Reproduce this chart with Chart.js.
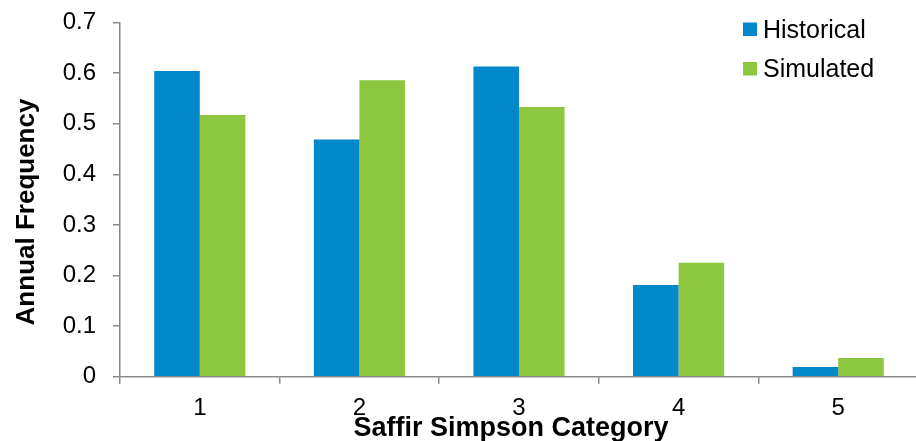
<!DOCTYPE html>
<html>
<head>
<meta charset="utf-8">
<script src="https://cdn.jsdelivr.net/npm/chart.js@4.4.1/dist/chart.umd.min.js"></script>
<style>
  html, body { margin: 0; padding: 0; background: #ffffff; overflow: hidden; }
  #wrap { width: 920px; height: 441px; position: relative; }
</style>
</head>
<body>
<div id="wrap"><canvas id="c" width="920" height="441"></canvas></div>
<script>
const categories = ["1", "2", "3", "4", "5"];
const historical = [0.604, 0.469, 0.613, 0.181, 0.019];
const simulated = [0.517, 0.586, 0.533, 0.225, 0.037];
const seriesNames = ["Historical", "Simulated"];
const xTitle = "Saffir Simpson Category";
const yTitle = "Annual Frequency";

const FONT = "'Liberation Sans', Arial, Helvetica, sans-serif";
const AXIS_COLOR = "#898989";

const overlay = {
  id: "overlay",
  afterDraw(chart) {
    const ctx = chart.ctx;
    ctx.save();
    // legend
    ctx.font = "25px " + FONT;
    ctx.textBaseline = "alphabetic";
    ctx.textAlign = "left";
    chart.data.datasets.forEach((ds, i) => {
      const y = 22.5 + i * 39.5;
      ctx.fillStyle = ds.backgroundColor;
      ctx.fillRect(743, y, 14, 13.5);
      ctx.fillStyle = "#000000";
      ctx.fillText(ds.label, 763, y + 15);
    });
    // axis titles
    ctx.fillStyle = "#000000";
    ctx.textAlign = "center";
    ctx.textBaseline = "middle";
    ctx.font = "bold 27px " + FONT;
    ctx.fillText(xTitle, 511, 429);
    ctx.font = "bold 26px " + FONT;
    ctx.translate(27, 212);
    ctx.rotate(-Math.PI / 2);
    ctx.fillText(yTitle, 0, 0);
    ctx.restore();
  }
};

new Chart(document.getElementById("c"), {
  type: "bar",
  data: {
    labels: categories,
    datasets: [
      { label: seriesNames[0], data: historical, backgroundColor: "#0088CB", borderWidth: 0 },
      { label: seriesNames[1], data: simulated, backgroundColor: "#8DC63F", borderWidth: 0 }
    ]
  },
  options: {
    responsive: false,
    animation: false,
    devicePixelRatio: 1,
    layout: { padding: { top: 22.5, left: 0, right: 2, bottom: 0 } },
    datasets: { bar: { categoryPercentage: 0.571, barPercentage: 1.0 } },
    plugins: {
      legend: { display: false },
      tooltip: { enabled: false },
      title: { display: false }
    },
    scales: {
      x: {
        afterFit(scale) { scale.height = 64.3; scale.paddingLeft = 0; scale.paddingRight = 0; },
        grid: {
          display: true,
          drawOnChartArea: false,
          drawTicks: true,
          tickLength: 7,
          color: AXIS_COLOR,
          lineWidth: 1.5,
          offset: true
        },
        border: { display: true, color: AXIS_COLOR, width: 1.5 },
        ticks: {
          color: "#000000",
          font: { family: FONT, size: 24 },
          padding: 10,
          maxRotation: 0
        }
      },
      y: {
        min: 0,
        max: 0.7,
        afterFit(scale) { scale.width = 120; scale.paddingTop = 0; scale.paddingBottom = 0; },
        grid: {
          display: true,
          drawOnChartArea: false,
          drawTicks: true,
          tickLength: 7,
          color: AXIS_COLOR,
          lineWidth: 1.5
        },
        border: { display: true, color: AXIS_COLOR, width: 1.5 },
        ticks: {
          stepSize: 0.1,
          color: "#000000",
          font: { family: FONT, size: 24 },
          padding: 17,
          callback: (v) => (Math.round(v * 10) / 10).toString()
        }
      }
    }
  },
  plugins: [overlay]
});
</script>
</body>
</html>
